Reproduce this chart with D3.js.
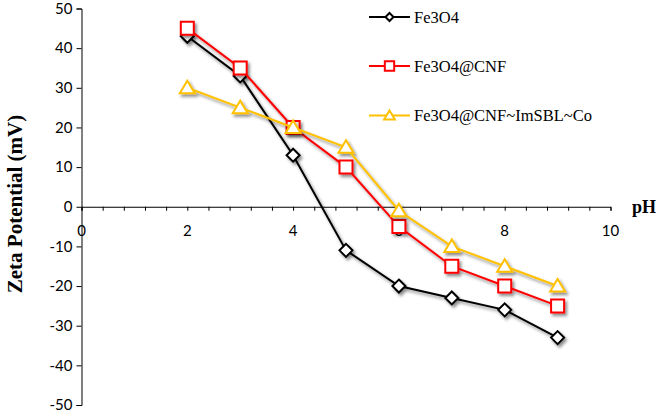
<!DOCTYPE html>
<html><head><meta charset="utf-8">
<script src="https://cdn.jsdelivr.net/npm/d3@7"></script>
<style>body{margin:0;background:#fff}svg{display:block}</style>
</head><body><svg id="c" width="660" height="412"></svg>
<script>
const pH = [2, 3, 4, 5, 6, 7, 8, 9];
const fe3o4 = [43, 33, 13, -11, -20, -23, -26, -33];
const fe3o4CNF = [45, 35, 20, 10, -5, -15, -20, -25];
const fe3o4CNFCo = [30, 25, 20, 15, -1, -10, -15, -20];
const seriesNames = ["Fe3O4", "Fe3O4@CNF", "Fe3O4@CNF~ImSBL~Co"];
const seriesColors = ["#000000", "#ff0000", "#ffc000"];
const seriesShapes = ["diamond", "square", "triangle"];
const xTicks = [0, 2, 4, 6, 8, 10];
const yTicks = [50, 40, 30, 20, 10, 0, -10, -20, -30, -40, -50];

const svg = d3.select("#c");
const x = d3.scaleLinear().domain([0, 10]).range([81.5, 610.5]);
const y = d3.scaleLinear().domain([-50, 50]).range([405, 8.5]);

const defs = svg.append("defs");
const f = defs.append("filter").attr("id", "sh").attr("x", "-30%").attr("y", "-30%").attr("width", "160%").attr("height", "160%");
f.append("feDropShadow").attr("dx", 2).attr("dy", 2.5).attr("stdDeviation", 1.8)
  .attr("flood-color", "#000").attr("flood-opacity", 0.45);

// y axis
const yAxis = d3.axisLeft(y).tickValues(yTicks).tickSize(5).tickFormat(d3.format("d"));
const gy = svg.append("g").attr("transform", `translate(${x(0)},0)`).call(yAxis);
gy.select(".domain").attr("stroke", "#000").attr("stroke-width", 1);
gy.selectAll(".tick line").attr("stroke", "#000");
gy.selectAll(".tick text").attr("font-family", "Lato, 'Open Sans', sans-serif").attr("font-size", 15)
  .attr("fill", "#000").attr("x", -9).text(d => d < 0 ? "-" + Math.abs(d) : d);

// x axis (at y=0)
const minor = d3.range(0, 10.001, 0.4);
const xAxis = d3.axisBottom(x).tickValues(minor).tickSize(4).tickFormat("");
const gx = svg.append("g").attr("transform", `translate(0,${y(0)})`).call(xAxis);
gx.select(".domain").attr("stroke", "#000").attr("stroke-width", 1);
gx.selectAll(".tick line").attr("stroke", "#000");
svg.append("g").selectAll("text").data(xTicks).join("text")
  .attr("x", d => x(d)).attr("y", y(0) + 29)
  .attr("text-anchor", "middle")
  .attr("font-family", "Lato, 'Open Sans', sans-serif").attr("font-size", 15)
  .text(d => d);

svg.append("text").attr("x", 632).attr("y", 213)
  .attr("font-family", "'Liberation Serif', serif").attr("font-weight", "bold").attr("font-size", 18).text("pH");

svg.append("text").attr("transform", `translate(22,204) rotate(-90)`)
  .attr("text-anchor", "middle")
  .attr("font-family", "'Liberation Serif', serif").attr("font-weight", "bold").attr("font-size", 21)
  .text("Zeta Potential (mV)");

const series = [fe3o4, fe3o4CNF, fe3o4CNFCo];
function shapePath(shape) {
  if (shape === "diamond") return "M0,-6.5L6.5,0L0,6.5L-6.5,0Z";
  if (shape === "square") return "M-6.5,-6.5H6.5V6.5H-6.5Z";
  return "M0,-7L7.5,5.5H-7.5Z";
}
const line = d3.line().x((d, i) => x(pH[i])).y(d => y(d));
series.forEach((vals, k) => {
  const g = svg.append("g").attr("filter", "url(#sh)");
  g.append("path").attr("d", line(vals)).attr("fill", "none")
    .attr("stroke", seriesColors[k]).attr("stroke-width", 2);
  g.selectAll("path.m").data(vals).join("path").attr("class", "m")
    .attr("transform", (d, i) => `translate(${x(pH[i])},${y(d)})`)
    .attr("d", shapePath(seriesShapes[k]))
    .attr("fill", "#fff").attr("stroke", seriesColors[k]).attr("stroke-width", 2);
});

// legend
const legY = [17, 66, 115.5];
seriesNames.forEach((name, k) => {
  const g = svg.append("g").attr("transform", `translate(369,${legY[k]})`);
  g.append("line").attr("x1", 0).attr("x2", 41).attr("stroke", seriesColors[k]).attr("stroke-width", 2);
  const s = k === 0 ? 0.62 : 0.72;
  g.append("path").attr("transform", `translate(20.5,0) scale(${s})`).attr("d", shapePath(seriesShapes[k]))
    .attr("fill", "#fff").attr("stroke", seriesColors[k]).attr("stroke-width", 2 / s);
  g.append("text").attr("x", 45).attr("y", 5.5)
    .attr("font-family", "'Liberation Serif', serif").attr("font-size", 16.5).text(name);
});
</script></body></html>
